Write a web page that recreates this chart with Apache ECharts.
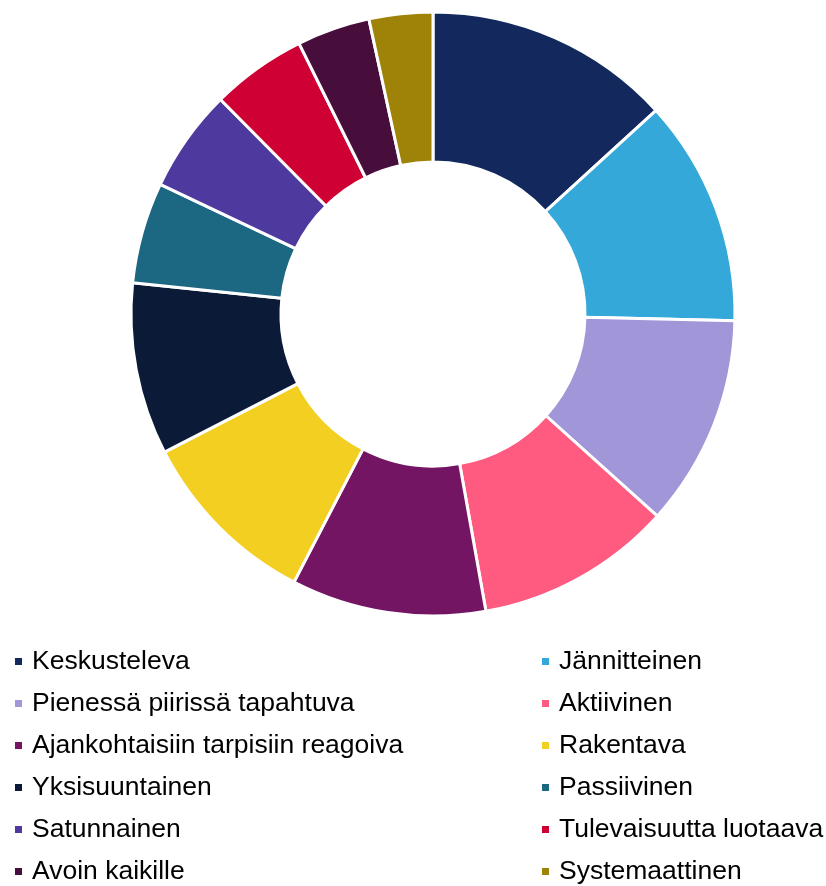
<!DOCTYPE html>
<html>
<head>
<meta charset="utf-8">
<script src="https://cdn.jsdelivr.net/npm/echarts@6/dist/echarts.min.js"></script>
<style>
  html, body { margin: 0; padding: 0; background: #fff; }
  #chart { width: 826px; height: 886px; }
</style>
</head>
<body>
<div id="chart"></div>
<script>
// categories in clockwise order from 12 o'clock
const categories = [
  'Keskusteleva', 'Jännitteinen', 'Pienessä piirissä tapahtuva', 'Aktiivinen',
  'Ajankohtaisiin tarpisiin reagoiva', 'Rakentava', 'Yksisuuntainen', 'Passiivinen',
  'Satunnainen', 'Tulevaisuutta luotaava', 'Avoin kaikille', 'Systemaattinen'
]
const values = [13.2, 12.1, 11.3, 10.5, 10.4, 9.8, 9.2, 5.4, 5.5, 5.1, 3.9, 3.4]
const colors = [
  '#13295D', '#33A8D9', '#A096D8', '#FF5A80',
  '#731563', '#F3CF21', '#0B1A37', '#1C6782',
  '#4E3A9E', '#CF0033', '#470D3B', '#9E8308'
]

const chart = echarts.init(document.getElementById('chart'))

// legend is laid out in two columns, alternating items
const leftItems = categories.filter((_, i) => i % 2 === 0)
const rightItems = categories.filter((_, i) => i % 2 === 1)

const legendBase = {
  orient: 'vertical',
  top: 648,
  height: 260,
  padding: 0,
  itemWidth: 9,
  itemHeight: 9,
  itemGap: 15,
  icon: 'rect',
  selectedMode: false,
  textStyle: {
    fontFamily: 'Liberation Sans, Arial, sans-serif',
    fontSize: 26.5,
    lineHeight: 26,
    color: '#000',
    padding: [0, 0, 0, 4]
  }
}

const option = {
  animation: false,
  color: colors,
  legend: [
    Object.assign({}, legendBase, { left: 13, data: leftItems }),
    Object.assign({}, legendBase, { left: 540, data: rightItems })
  ],
  series: [
    {
      type: 'pie',
      center: [433, 314],
      radius: [152, 302],
      startAngle: 90,
      clockwise: true,
      label: { show: false },
      labelLine: { show: false },
      itemStyle: {
        borderColor: '#fff',
        borderWidth: 3
      },
      data: categories.map((name, i) => ({ name: name, value: values[i] }))
    }
  ]
}

chart.setOption(option)
</script>
</body>
</html>
